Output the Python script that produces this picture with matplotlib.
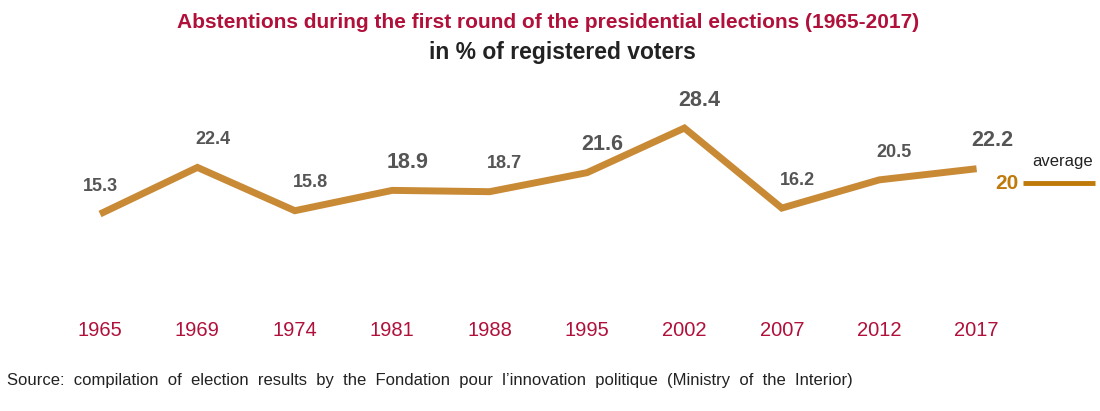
import matplotlib
matplotlib.use("Agg")
import matplotlib.pyplot as plt
from matplotlib import font_manager

years = ["1965", "1969", "1974", "1981", "1988", "1995", "2002", "2007", "2012", "2017"]
abstention = [15.3, 22.4, 15.8, 18.9, 18.7, 21.6, 28.4, 16.2, 20.5, 22.2]
big_labels = [False, False, False, True, False, True, True, False, False, True]
average = 20

names = {f.name for f in font_manager.fontManager.ttflist}
narrow = "Liberation Sans Narrow" if "Liberation Sans Narrow" in names else "Liberation Sans"
wide = "Liberation Sans"

red = "#b0103a"
line_col = "#c98a36"
avg_col = "#bf7a0a"
lab_col = "#555555"

fig = plt.figure(figsize=(11, 4.11), dpi=100)
ax = fig.add_axes([0, 0, 1, 1])
# axis limits chosen so the series falls where it sits in the picture
ax.set_xlim(-1.027, 10.267)
ax.set_ylim(-14.73, 47.92)
ax.axis("off")

x = list(range(len(years)))
ax.plot(x, abstention, color=line_col, lw=5, solid_joinstyle="miter", solid_capstyle="butt")

for i, v in enumerate(abstention):
    dx = 0 if i == 0 else 11
    size = 15.5 if big_labels[i] else 13
    ax.annotate(f"{v}", (i, v), xytext=(dx, 20), textcoords="offset points",
                ha="center", va="center", fontsize=size, fontweight="bold",
                color=lab_col, family=wide)

for i, y in enumerate(years):
    ax.text(i, -2.4, y, ha="center", va="center", fontsize=14.5, color=red, family=narrow)

# average marker on the right
ax.plot([9.48, 10.22], [average, average], color=avg_col, lw=3.5, solid_capstyle="butt")
ax.text(9.43, average, f"{average}", ha="right", va="center", fontsize=15,
        fontweight="bold", color=avg_col, family=wide)
ax.annotate("average", (9.88, average), xytext=(0, 10), textcoords="offset points",
            ha="center", va="bottom", fontsize=12, color="#222222", family=narrow)

fig.text(0.498, 0.945, "Abstentions during the first round of the presidential elections (1965-2017)",
         ha="center", va="center", fontsize=15, fontweight="bold", color=red, family=narrow)
fig.text(0.511, 0.872, "in % of registered voters", ha="center", va="center",
         fontsize=16.5, fontweight="bold", color="#222222", family=wide)
fig.text(0.006, 0.074,
         "Source:  compilation  of  election  results  by  the  Fondation  pour  l\u2019innovation  politique  (Ministry  of  the  Interior)",
         ha="left", va="center", fontsize=12, color="#222222", family=narrow)

fig.savefig("out.png", dpi=100)
